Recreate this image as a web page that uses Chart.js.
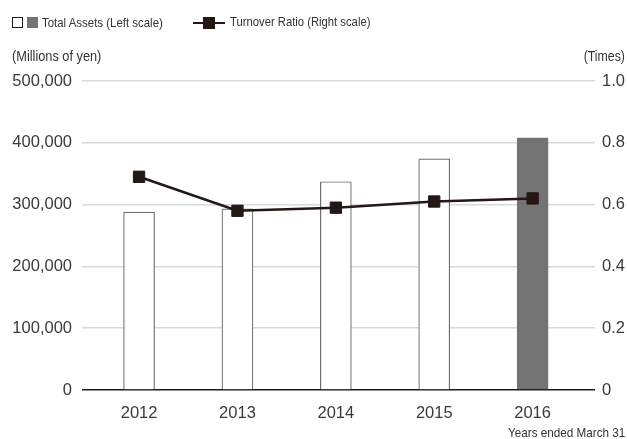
<!DOCTYPE html>
<html>
<head>
<meta charset="utf-8">
<script src="https://cdn.jsdelivr.net/npm/chart.js@4"></script>
<style>
    body { margin: 0; background: #fff; }
    #wrap { position: relative; width: 627px; height: 439px; font-family: 'Liberation Sans', Arial, sans-serif; color: #333; }
    #chart { position: absolute; left: 0; top: 0; }
    .txt { position: absolute; white-space: nowrap; line-height: 1; }
    .cond { transform: scaleX(0.88); transform-origin: left center; }
    .condr { transform: scaleX(0.88); transform-origin: right center; }
    .box { position: absolute; box-sizing: border-box; }
</style>
</head>
<body>
<div id="wrap">
    <canvas id="chart" width="627" height="439"></canvas>

    <div class="box" style="left:12px;top:17px;width:11px;height:11px;border:1.2px solid #231815;background:#fff"></div>
    <div class="box" style="left:27px;top:17px;width:11px;height:11px;background:#737373"></div>
    <div class="txt cond" style="left:42px;top:16px;font-size:13px">Total Assets (Left scale)</div>

    <div class="box" style="left:193px;top:21.5px;width:32px;height:2.5px;background:#231815"></div>
    <div class="box" style="left:203px;top:16.5px;width:12px;height:12px;background:#231815"></div>
    <div class="txt cond" style="left:230px;top:16px;font-size:12.8px">Turnover Ratio (Right scale)</div>

    <div class="txt cond" style="left:12px;top:49px;font-size:14.5px">(Millions of yen)</div>
    <div class="txt condr" style="right:2px;top:49px;font-size:14px">(Times)</div>
    <div class="txt condr" style="right:2px;top:426px;font-size:13.3px">Years ended March 31</div>
</div>
<script>
const years = [2012, 2013, 2014, 2015, 2016];
const totalAssets = [288000, 293000, 337000, 374000, 408000];
const turnoverRatio = [0.69, 0.58, 0.59, 0.61, 0.62];
const leftTicks = [0, 100000, 200000, 300000, 400000, 500000];
const rightTicks = [0, 0.2, 0.4, 0.6, 0.8, 1.0];

const ink = '#231815';
const labelColor = '#3a3a3a';
const tickFont = { family: 'Liberation Sans', size: 16.5 };

new Chart(document.getElementById('chart'), {
    data: {
        datasets: [
            {
                type: 'line',
                label: 'Turnover Ratio (Right scale)',
                data: years.map((y, i) => ({ x: y, y: turnoverRatio[i] })),
                yAxisID: 'y1',
                order: 0,
                borderColor: ink,
                borderWidth: 2.5,
                pointStyle: 'rect',
                pointRadius: 8,
                pointBorderWidth: 1,
                pointBackgroundColor: ink,
                pointBorderColor: ink
            },
            {
                type: 'bar',
                label: 'Total Assets (Left scale)',
                data: years.map((y, i) => ({ x: y, y: totalAssets[i] })),
                yAxisID: 'y',
                order: 1,
                barThickness: 31,
                backgroundColor: years.map((y, i) => i === years.length - 1 ? '#737373' : '#fff'),
                borderColor: years.map((y, i) => i === years.length - 1 ? '#737373' : '#6e6e6e'),
                borderWidth: 1.2
            }
        ]
    },
    options: {
        responsive: false,
        animation: false,
        layout: { padding: { top: 81, bottom: 0, left: 0, right: 0 } },
        plugins: {
            legend: { display: false },
            tooltip: { enabled: false }
        },
        scales: {
            x: {
                type: 'linear',
                offset: false,
                min: 2011.42,
                max: 2016.634,
                afterBuildTicks: scale => { scale.ticks = years.map(v => ({ value: v })); },
                afterFit: scale => { scale.height = 49; },
                grid: { display: false },
                border: { display: false },
                ticks: {
                    callback: v => String(v),
                    font: tickFont,
                    color: labelColor,
                    padding: 6,
                    maxRotation: 0
                }
            },
            y: {
                position: 'left',
                min: 0,
                max: 500000,
                afterBuildTicks: scale => { scale.ticks = leftTicks.map(v => ({ value: v })); },
                afterFit: scale => { scale.width = 82; },
                border: { display: false },
                grid: {
                    drawTicks: false,
                    color: ctx => ctx.tick && ctx.tick.value === 0 ? ink : '#d9d9d9',
                    lineWidth: ctx => ctx.tick && ctx.tick.value === 0 ? 1.6 : 1.5
                },
                ticks: {
                    callback: v => v.toLocaleString('en-US'),
                    font: tickFont,
                    color: labelColor,
                    padding: 10
                }
            },
            y1: {
                position: 'right',
                min: 0,
                max: 1,
                afterBuildTicks: scale => { scale.ticks = rightTicks.map(v => ({ value: v })); },
                afterFit: scale => { scale.width = 32; },
                border: { display: false },
                grid: { display: false, drawTicks: false },
                ticks: {
                    callback: v => v === 0 ? '0' : v.toFixed(1),
                    font: tickFont,
                    color: labelColor,
                    padding: 7
                }
            }
        }
    }
});
</script>
</body>
</html>
